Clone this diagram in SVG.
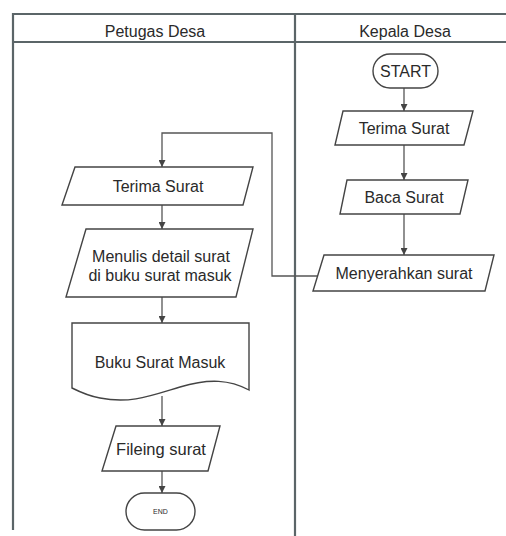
<svg xmlns="http://www.w3.org/2000/svg" width="506" height="536" viewBox="0 0 506 536">
<style>
.frame{fill:none;stroke:#5b6568;stroke-width:2.2}
.shape{fill:#fff;stroke:#444;stroke-width:1.4}
.conn{fill:none;stroke:#555;stroke-width:1.3}
.lbl{font-family:"Liberation Sans",Arial,sans-serif;font-size:16px;fill:#2a2a2a;text-anchor:middle}
.hdr{font-family:"Liberation Sans",Arial,sans-serif;font-size:16px;fill:#2a2a2a;text-anchor:middle}
</style>
<defs>
<marker id="arr" viewBox="0 0 10 10" refX="10" refY="5" markerWidth="7" markerHeight="7" markerUnits="userSpaceOnUse" orient="auto">
<path d="M0,0 L10,5 L0,10 Z" fill="#444"/>
</marker>
</defs>
<rect x="0" y="0" width="506" height="536" fill="#fff"/>
<g id="swimlanes">
<line class="frame" x1="13" y1="14" x2="506" y2="14"/>
<line class="frame" x1="13" y1="42" x2="506" y2="42"/>
<line class="frame" x1="13" y1="13" x2="13" y2="530"/>
<line class="frame" x1="295" y1="14" x2="295" y2="536"/>
<text class="hdr" x="155" y="37">Petugas Desa</text>
<text class="hdr" x="405" y="37">Kepala Desa</text>
</g>
<g id="connectors">
<line class="conn" x1="404" y1="88" x2="404" y2="111" marker-end="url(#arr)"/>
<line class="conn" x1="404" y1="145" x2="404" y2="180" marker-end="url(#arr)"/>
<line class="conn" x1="404" y1="214" x2="404" y2="255" marker-end="url(#arr)"/>
<polyline class="conn" points="318,276 272,276 272,133 162,133 162,167" marker-end="url(#arr)"/>
<line class="conn" x1="162" y1="205" x2="162" y2="229" marker-end="url(#arr)"/>
<line class="conn" x1="162" y1="297" x2="162" y2="323" marker-end="url(#arr)"/>
<line class="conn" x1="162" y1="396" x2="162" y2="426" marker-end="url(#arr)"/>
<line class="conn" x1="162" y1="471" x2="162" y2="493" marker-end="url(#arr)"/>
</g>
<g id="start">
<rect class="shape" x="373" y="54" width="65" height="34" rx="17"/>
<text class="lbl" x="405.5" y="77">START</text>
</g>
<g id="terima-surat-kepala">
<polygon class="shape" points="343,111 473,111 464,145 335,145"/>
<text class="lbl" x="404" y="134">Terima Surat</text>
</g>
<g id="baca-surat">
<polygon class="shape" points="347,180 468,180 460,214 340,214"/>
<text class="lbl" x="404" y="203">Baca Surat</text>
</g>
<g id="menyerahkan-surat">
<polygon class="shape" points="324,255 494,255 485,291 313,291"/>
<text class="lbl" x="404" y="279">Menyerahkan surat</text>
</g>
<g id="terima-surat-petugas">
<polygon class="shape" points="75,167 253,167 243,205 62,205"/>
<text class="lbl" x="158" y="192">Terima Surat</text>
</g>
<g id="menulis-detail">
<polygon class="shape" points="86,229 253,229 236,297 66,297"/>
<text class="lbl" x="161" y="262">Menulis detail surat</text>
<text class="lbl" x="160" y="281">di buku surat masuk</text>
</g>
<g id="buku-surat-masuk">
<path class="shape" d="M72,323 H249 V390 C230,380 210,378 180,387 C150,396 130,404 100,398 C88,396 80,392 72,388 Z"/>
<text class="lbl" x="160" y="368">Buku Surat Masuk</text>
</g>
<g id="filing-surat">
<polygon class="shape" points="116,426 220,426 208,471 102,471"/>
<text class="lbl" x="161" y="455" style="font-size:16.5px">Fileing surat</text>
</g>
<g id="end">
<rect class="shape" x="126" y="493" width="69" height="37" rx="18.5"/>
<text class="lbl" x="160.5" y="514" style="font-size:7px">END</text>
</g>
</svg>
